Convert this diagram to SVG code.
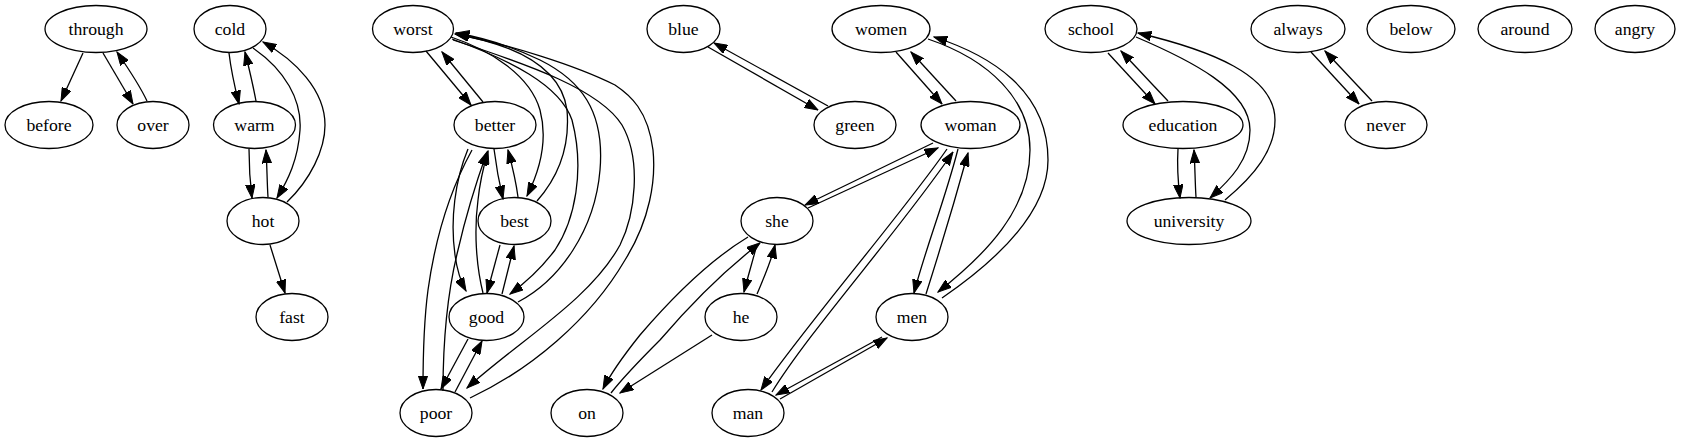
<svg xmlns="http://www.w3.org/2000/svg" width="1684" height="443" viewBox="0 0 1684 443">
<style>
.n ellipse{fill:none;stroke:#000;stroke-width:1.3}
.n text{font-family:'Liberation Serif','Times New Roman','DejaVu Serif',serif;font-size:17.7px;text-anchor:middle;fill:#000}
#edges path{fill:none;stroke:#000;stroke-width:1.3;marker-end:url(#arr)}
</style>
<defs>
<marker id="arr" markerUnits="userSpaceOnUse" markerWidth="14" markerHeight="10" viewBox="0 -5 14 10" refX="13.3" refY="0" orient="auto">
<path d="M0,-4.7 L13.3,0 L0,4.7 z" fill="#000" stroke="#000" stroke-width="1"/>
</marker>
</defs>
<rect width="1684" height="443" fill="#fff"/>
<g id="edges">
<path d="M83,53 L61,101"/>
<path d="M103,53 L133,104"/>
<path d="M147,101 C140,86 128,68 117,52"/>
<path d="M229,53 C231,70 235,88 239,104"/>
<path d="M256,101 C253,85 249,68 245,52"/>
<path d="M249,149 C249,165 250,182 252,198"/>
<path d="M268,197 C267,182 267,165 266,150"/>
<path d="M253,48 C285,70 302,100 300,130 C298,160 288,180 277,198"/>
<path d="M287,202 C310,180 325,150 325,125 C325,90 295,60 263,42"/>
<path d="M270,245 L285,293"/>
<path d="M426,51 L471,105"/>
<path d="M483,102 L442,52"/>
<path d="M494,149 C496,165 499,182 503,199"/>
<path d="M518,197 C516,182 512,165 508,150"/>
<path d="M451,37 C490,50 530,75 540,110 C548,140 540,170 527,196"/>
<path d="M537,201 C560,175 570,145 567,110 C560,60 500,42 455,34"/>
<path d="M452,39 C510,60 560,85 572,120 C585,170 575,220 555,250 C540,270 525,283 510,294"/>
<path d="M518,302 C560,280 595,230 600,170 C605,110 580,80 540,60 C515,48 485,38 456,33"/>
<path d="M453,40 C530,65 600,90 622,125 C642,160 635,215 620,245 C590,300 520,340 467,388"/>
<path d="M470,398 C530,370 590,320 625,260 C650,220 656,180 653,150 C648,110 630,95 615,85 C575,65 510,45 456,34"/>
<path d="M468,149 C455,180 450,220 455,255 C457,270 461,282 466,291"/>
<path d="M483,293 C476,265 474,230 478,200 C480,180 484,165 488,151"/>
<path d="M472,150 C450,190 435,240 428,290 C424,320 423,360 423,389"/>
<path d="M443,391 C443,340 448,290 458,250 C466,215 477,180 487,152"/>
<path d="M500,245 L487,293"/>
<path d="M502,294 L514,246"/>
<path d="M468,339 L441,389"/>
<path d="M455,392 L482,341"/>
<path d="M708,47 L818,110"/>
<path d="M828,106 L714,43"/>
<path d="M896,52 L942,104"/>
<path d="M956,101 L911,52"/>
<path d="M933,143 L805,205"/>
<path d="M808,208 L938,148"/>
<path d="M947,149 C905,210 810,320 761,390"/>
<path d="M772,392 C810,330 900,230 953,152"/>
<path d="M958,149 C945,200 925,250 914,293"/>
<path d="M926,294 C940,250 955,200 968,153"/>
<path d="M928,39 C990,60 1030,100 1030,150 C1030,210 985,255 938,292"/>
<path d="M942,298 C990,265 1048,215 1048,160 C1048,90 990,55 934,37"/>
<path d="M757,244 C753,260 748,276 744,292"/>
<path d="M757,294 C765,275 771,262 775,245"/>
<path d="M748,237 C710,260 670,300 640,335 C620,360 610,375 603,389"/>
<path d="M611,393 C625,375 640,360 660,340 C690,305 725,270 760,243"/>
<path d="M712,335 L620,393"/>
<path d="M882,337 L776,395"/>
<path d="M780,399 L887,338"/>
<path d="M1108,53 L1155,104"/>
<path d="M1168,101 L1121,51"/>
<path d="M1178,149 C1177,165 1178,182 1180,198"/>
<path d="M1196,197 C1195,182 1195,165 1194,150"/>
<path d="M1136,37 C1190,60 1250,90 1250,130 C1250,160 1230,180 1210,198"/>
<path d="M1225,200 C1255,175 1275,150 1275,120 C1275,75 1210,50 1138,33"/>
<path d="M1311,52 L1359,104"/>
<path d="M1372,101 L1325,51"/>
</g>
<g id="through" class="n"><ellipse cx="96" cy="29" rx="51" ry="23.5"/><text x="96" y="35">through</text></g>
<g id="before" class="n"><ellipse cx="49" cy="125" rx="44" ry="23.5"/><text x="49" y="131">before</text></g>
<g id="over" class="n"><ellipse cx="153" cy="125" rx="36" ry="23.5"/><text x="153" y="131">over</text></g>
<g id="cold" class="n"><ellipse cx="230" cy="29" rx="36" ry="23.5"/><text x="230" y="35">cold</text></g>
<g id="warm" class="n"><ellipse cx="254.5" cy="125" rx="41" ry="23.5"/><text x="254.5" y="131">warm</text></g>
<g id="hot" class="n"><ellipse cx="263" cy="221" rx="36" ry="23.5"/><text x="263" y="227">hot</text></g>
<g id="fast" class="n"><ellipse cx="292" cy="317" rx="36" ry="23.5"/><text x="292" y="323">fast</text></g>
<g id="worst" class="n"><ellipse cx="413" cy="29" rx="40.5" ry="23.5"/><text x="413" y="35">worst</text></g>
<g id="better" class="n"><ellipse cx="495" cy="125" rx="41" ry="23.5"/><text x="495" y="131">better</text></g>
<g id="best" class="n"><ellipse cx="514.5" cy="221" rx="36.5" ry="23.5"/><text x="514.5" y="227">best</text></g>
<g id="good" class="n"><ellipse cx="486.5" cy="317" rx="37.5" ry="23.5"/><text x="486.5" y="323">good</text></g>
<g id="poor" class="n"><ellipse cx="436" cy="413" rx="36" ry="23.5"/><text x="436" y="419">poor</text></g>
<g id="on" class="n"><ellipse cx="587" cy="413" rx="36" ry="23.5"/><text x="587" y="419">on</text></g>
<g id="blue" class="n"><ellipse cx="683.5" cy="29" rx="36.5" ry="23.5"/><text x="683.5" y="35">blue</text></g>
<g id="green" class="n"><ellipse cx="855" cy="125" rx="41" ry="23.5"/><text x="855" y="131">green</text></g>
<g id="women" class="n"><ellipse cx="881" cy="29" rx="49" ry="23.5"/><text x="881" y="35">women</text></g>
<g id="woman" class="n"><ellipse cx="970.5" cy="125" rx="49.5" ry="23.5"/><text x="970.5" y="131">woman</text></g>
<g id="she" class="n"><ellipse cx="777" cy="221" rx="36" ry="23.5"/><text x="777" y="227">she</text></g>
<g id="he" class="n"><ellipse cx="741" cy="317" rx="36" ry="23.5"/><text x="741" y="323">he</text></g>
<g id="men" class="n"><ellipse cx="912" cy="317" rx="36" ry="23.5"/><text x="912" y="323">men</text></g>
<g id="man" class="n"><ellipse cx="748" cy="413" rx="36" ry="23.5"/><text x="748" y="419">man</text></g>
<g id="school" class="n"><ellipse cx="1091" cy="29" rx="46" ry="23.5"/><text x="1091" y="35">school</text></g>
<g id="education" class="n"><ellipse cx="1183" cy="125" rx="60" ry="23.5"/><text x="1183" y="131">education</text></g>
<g id="university" class="n"><ellipse cx="1189" cy="221" rx="62" ry="23.5"/><text x="1189" y="227">university</text></g>
<g id="always" class="n"><ellipse cx="1298" cy="29" rx="47" ry="23.5"/><text x="1298" y="35">always</text></g>
<g id="never" class="n"><ellipse cx="1386" cy="125" rx="41" ry="23.5"/><text x="1386" y="131">never</text></g>
<g id="below" class="n"><ellipse cx="1411" cy="29" rx="44" ry="23.5"/><text x="1411" y="35">below</text></g>
<g id="around" class="n"><ellipse cx="1525" cy="29" rx="47" ry="23.5"/><text x="1525" y="35">around</text></g>
<g id="angry" class="n"><ellipse cx="1635" cy="29" rx="40" ry="23.5"/><text x="1635" y="35">angry</text></g>
</svg>
